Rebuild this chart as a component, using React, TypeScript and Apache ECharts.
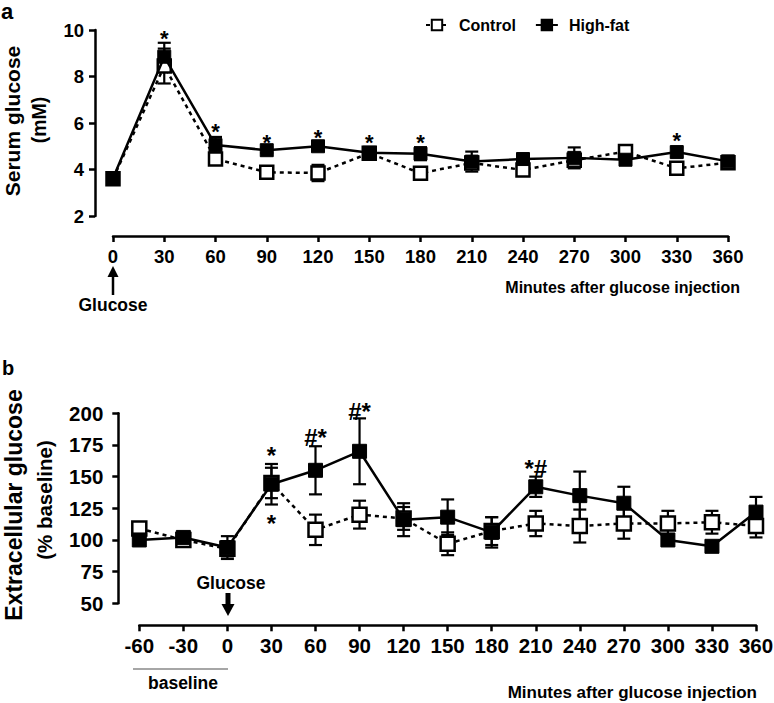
import React, { useRef, useEffect } from "react";
import * as echarts from "echarts";

const FONT = '"Liberation Sans", Arial, Helvetica, sans-serif';

// Panel a: serum glucose (mM)
const minutesA = [0, 30, 60, 90, 120, 150, 180, 210, 240, 270, 300, 330, 360];
const controlA = [3.6, 8.45, 4.45, 3.88, 3.85, 4.7, 3.84, 4.28, 3.98, 4.4, 4.77, 4.05, 4.29];
const controlAErr = [0.12, 0.75, 0.2, 0.12, 0.35, 0.1, 0.12, 0.15, 0.2, 0.2, 0.2, 0.12, 0.1];
const highFatA = [3.62, 8.85, 5.05, 4.83, 5.0, 4.72, 4.68, 4.34, 4.45, 4.5, 4.42, 4.75, 4.35];
const highFatAErr = [0.12, 0.6, 0.35, 0.12, 0.12, 0.1, 0.28, 0.43, 0.17, 0.45, 0.1, 0.2, 0.1];
const starsAX = [30, 60, 90, 120, 150, 180, 330];
const starsAY = [9.85, 5.85, 5.4, 5.6, 5.4, 5.4, 5.45];
const starsAText = ["*", "*", "*", "*", "*", "*", "*"];

// Panel b: extracellular glucose (% baseline)
const minutesB = [-60, -30, 0, 30, 60, 90, 120, 150, 180, 210, 240, 270, 300, 330, 360];
const controlB = [109, 100, 93, 145, 108, 120, 117, 97, 107, 113, 111, 113, 113, 114, 111];
const controlBErr = [4, 3, 6, 12, 12, 11, 9, 9, 11, 10, 13, 12, 10, 9, 9];
const highFatB = [100, 102, 94, 144, 155, 170, 116, 118, 106, 142, 135, 129, 100, 95, 122];
const highFatBErr = [3, 4, 9, 16, 19, 26, 13, 14, 12, 8, 19, 13, 3, 3, 12];
const annBX = [30, 30, 60, 90, 210];
const annBY = [171, 117, 183, 204, 159];
const annBText = ["*", "*", "#*", "#*", "*#"];

const seriesNames = ["Control", "High-fat"];

function errData(xs: number[], ys: number[], es: number[]) {
  return xs.map((x, i) => [x, ys[i] - es[i], ys[i] + es[i]]);
}

function errorBarSeries(data: number[][], idx: number, z: number) {
  return {
    type: "custom",
    xAxisIndex: idx,
    yAxisIndex: idx,
    z,
    silent: true,
    clip: false,
    encode: { x: 0, y: [1, 2] },
    data,
    renderItem: (params: any, api: any) => {
      const x = api.value(0);
      const lo = api.coord([x, api.value(1)]);
      const hi = api.coord([x, api.value(2)]);
      const half = 6.5;
      const style = { stroke: "#000", lineWidth: 2.2 };
      return {
        type: "group",
        children: [
          { type: "line", shape: { x1: lo[0], y1: lo[1], x2: hi[0], y2: hi[1] }, style },
          { type: "line", shape: { x1: hi[0] - half, y1: hi[1], x2: hi[0] + half, y2: hi[1] }, style },
          { type: "line", shape: { x1: lo[0] - half, y1: lo[1], x2: lo[0] + half, y2: lo[1] }, style },
        ],
      };
    },
  };
}

function annotationSeries(xs: number[], ys: number[], texts: string[], idx: number, fs: number) {
  return {
    type: "custom",
    xAxisIndex: idx,
    yAxisIndex: idx,
    z: 10,
    silent: true,
    clip: false,
    data: xs.map((x, i) => [x, ys[i]]),
    renderItem: (params: any, api: any) => {
      const p = api.coord([api.value(0), api.value(1)]);
      const t = texts[params.dataIndex];
      const dy = t === "*" ? 0.23 * fs : 0.12 * fs;
      return {
        type: "text",
        x: p[0],
        y: p[1] + dy,
        style: {
          text: t,
          fontSize: fs,
          fontWeight: "bold",
          fontFamily: FONT,
          fill: "#000",
          align: "center",
          verticalAlign: "middle",
        },
      };
    },
  };
}

function lineSeries(name: string, xs: number[], ys: number[], idx: number, size: number) {
  const isControl = name === "Control";
  return {
    name,
    type: "line",
    xAxisIndex: idx,
    yAxisIndex: idx,
    z: isControl ? 3 : 4,
    data: xs.map((x, i) => [x, ys[i]]),
    symbol: "rect",
    symbolSize: size,
    showSymbol: true,
    clip: false,
    lineStyle: isControl
      ? { color: "#000", width: 2.5, type: [4, 4] }
      : { color: "#000", width: 2.5, type: "solid" },
    itemStyle: isControl
      ? { color: "#fff", borderColor: "#000", borderWidth: 2.5 }
      : { color: "#000", borderColor: "#000", borderWidth: 1 },
    emphasis: { disabled: true },
  };
}

const axisCommon = {
  axisLine: { show: true, onZero: false, lineStyle: { color: "#000", width: 2.5 } },
  axisTick: { show: true, length: 6, lineStyle: { color: "#000", width: 2.5 } },
  splitLine: { show: false },
};

export default function App() {
  const ref = useRef<HTMLDivElement>(null);
  useEffect(() => {
    if (!ref.current) return;
    const chart = echarts.init(ref.current, null, { renderer: "svg" });
    const labelA = { color: "#000", fontFamily: FONT, fontWeight: "bold", fontSize: 18.5 };
    const labelB = { color: "#000", fontFamily: FONT, fontWeight: "bold", fontSize: 20.5 };
    const option: any = {
      animation: false,
      backgroundColor: "#fff",
      legend: {
        data: seriesNames,
        left: 420,
        top: 12,
        itemWidth: 22,
        itemHeight: 13,
        itemGap: 19,
        selectedMode: false,
        textStyle: {
          color: "#000",
          fontFamily: FONT,
          fontWeight: "bold",
          fontSize: 16,
          padding: [0, 0, 0, 6],
        },
      },
      grid: [
        { left: 113, top: 30, width: 615, height: 186, outerBoundsMode: "none" },
        { left: 139.3, top: 413.3, width: 616.7, height: 190, outerBoundsMode: "none" },
      ],
      xAxis: [
        {
          type: "value",
          gridIndex: 0,
          min: 0,
          max: 360,
          interval: 30,
          offset: 20,
          ...axisCommon,
          axisLabel: { ...labelA, margin: 11 },
        },
        {
          type: "value",
          gridIndex: 1,
          min: -60,
          max: 360,
          interval: 30,
          offset: 22,
          ...axisCommon,
          axisLabel: { ...labelB, margin: 10 },
        },
      ],
      yAxis: [
        {
          type: "value",
          gridIndex: 0,
          min: 2,
          max: 10,
          interval: 2,
          offset: 18,
          ...axisCommon,
          axisLabel: { ...labelA, margin: 11 },
        },
        {
          type: "value",
          gridIndex: 1,
          min: 50,
          max: 200,
          interval: 25,
          offset: 21,
          ...axisCommon,
          axisLabel: { ...labelB, margin: 15 },
        },
      ],
      series: [
        errorBarSeries(errData(minutesA, controlA, controlAErr), 0, 1),
        errorBarSeries(errData(minutesA, highFatA, highFatAErr), 0, 1),
        lineSeries("Control", minutesA, controlA, 0, 13),
        lineSeries("High-fat", minutesA, highFatA, 0, 13),
        annotationSeries(starsAX, starsAY, starsAText, 0, 22),
        errorBarSeries(errData(minutesB, controlB, controlBErr), 1, 1),
        errorBarSeries(errData(minutesB, highFatB, highFatBErr), 1, 1),
        lineSeries("Control", minutesB, controlB, 1, 14),
        lineSeries("High-fat", minutesB, highFatB, 1, 14),
        annotationSeries(annBX, annBY, annBText, 1, 24),
      ],
      graphic: [
        { type: "text", x: 1, y: 11, style: { text: "a", fontSize: 22, fontWeight: "bold", fontFamily: FONT, fill: "#000", verticalAlign: "middle" } },
        { type: "text", x: 2, y: 368, style: { text: "b", fontSize: 20, fontWeight: "bold", fontFamily: FONT, fill: "#000", verticalAlign: "middle" } },
        { type: "text", x: 12, y: 121, rotation: Math.PI / 2, style: { text: "Serum glucose", fontSize: 21, fontWeight: "bold", fontFamily: FONT, fill: "#000", align: "center", verticalAlign: "middle" } },
        { type: "text", x: 39, y: 120, rotation: Math.PI / 2, style: { text: "(mM)", fontSize: 19.5, fontWeight: "bold", fontFamily: FONT, fill: "#000", align: "center", verticalAlign: "middle" } },
        { type: "text", x: 14, y: 505, rotation: Math.PI / 2, style: { text: "Extracellular glucose", fontSize: 23, fontWeight: "bold", fontFamily: FONT, fill: "#000", align: "center", verticalAlign: "middle" } },
        { type: "text", x: 44, y: 500, rotation: Math.PI / 2, style: { text: "(% baseline)", fontSize: 20.5, fontWeight: "bold", fontFamily: FONT, fill: "#000", align: "center", verticalAlign: "middle" } },
        { type: "text", x: 740, y: 287, style: { text: "Minutes after glucose injection", fontSize: 16, fontWeight: "bold", fontFamily: FONT, fill: "#000", align: "right", verticalAlign: "middle" } },
        { type: "text", x: 757, y: 692, style: { text: "Minutes after glucose injection", fontSize: 17, fontWeight: "bold", fontFamily: FONT, fill: "#000", align: "right", verticalAlign: "middle" } },
        // panel a glucose arrow
        { type: "line", shape: { x1: 113, y1: 274, x2: 113, y2: 295 }, style: { stroke: "#000", lineWidth: 2.5 } },
        { type: "polygon", shape: { points: [[113, 266], [107.5, 277], [118.5, 277]] }, style: { fill: "#000" } },
        { type: "text", x: 113, y: 305, style: { text: "Glucose", fontSize: 17.5, fontWeight: "bold", fontFamily: FONT, fill: "#000", align: "center", verticalAlign: "middle" } },
        // panel b glucose arrow
        { type: "text", x: 231, y: 583, style: { text: "Glucose", fontSize: 17.5, fontWeight: "bold", fontFamily: FONT, fill: "#000", align: "center", verticalAlign: "middle" } },
        { type: "line", shape: { x1: 228, y1: 593, x2: 228, y2: 606 }, style: { stroke: "#000", lineWidth: 5 } },
        { type: "polygon", shape: { points: [[228, 616], [221.5, 604], [234.5, 604]] }, style: { fill: "#000" } },
        // baseline bracket
        { type: "line", shape: { x1: 133, y1: 669, x2: 228, y2: 669 }, style: { stroke: "#888", lineWidth: 1.5 } },
        { type: "text", x: 183, y: 683, style: { text: "baseline", fontSize: 17.5, fontWeight: "bold", fontFamily: FONT, fill: "#000", align: "center", verticalAlign: "middle" } },
      ],
    };
    chart.setOption(option);
    return () => chart.dispose();
  }, []);
  return (
    <div
      ref={ref}
      style={{ position: "absolute", left: 0, top: 0, width: 774, height: 703, background: "#fff" }}
    />
  );
}
